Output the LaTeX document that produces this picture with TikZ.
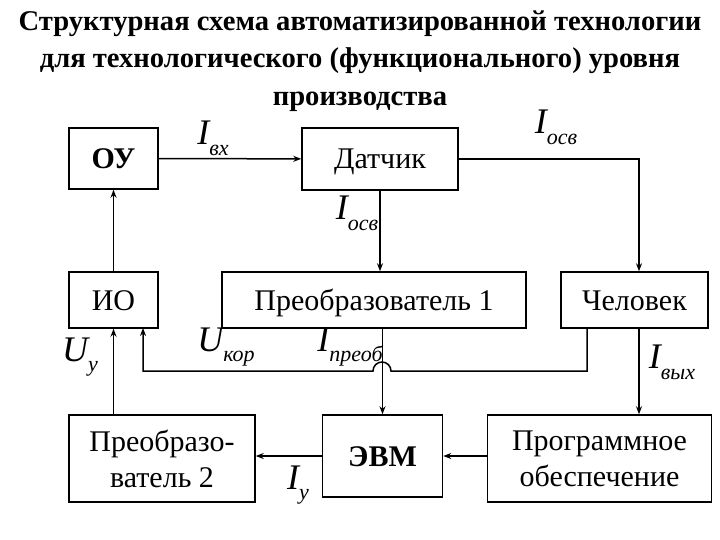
\documentclass[tikz,border=0pt]{standalone}
\usepackage{fontspec}
\setmainfont[Ligatures=TeX]{Liberation Serif}
\usetikzlibrary{arrows.meta}

\tikzset{
  blok/.style={draw,minimum width=#1,inner sep=0pt,font=\rmfamily\fontsize{30}{36}\selectfont},
  oneline/.style={text height=20pt,text depth=0pt},
  lab/.style={font=\rmfamily\fontsize{36}{36}\selectfont\itshape,inner sep=0pt},
  >={Stealth[length=8pt,width=6pt]}
}
\newcommand{\sig}[2]{#1\raisebox{-0.3em}{\fontsize{22}{22}\selectfont #2}}

\begin{document}
\begin{tikzpicture}[x=1pt,y=-1pt,line width=1.5pt]
  \useasboundingbox (0,0) rectangle (720,540);
  % title
  \node[font=\rmfamily\fontsize{28.6}{37.5}\selectfont\bfseries,align=center] (title) at (360,61)
    {Структурная схема автоматизированной технологии\\
     для технологического (функционального) уровня\\
     производства};
  % blocks
  \node[blok=89pt,oneline,minimum height=61pt,font=\rmfamily\fontsize{30}{32}\selectfont\bfseries] (ou) at (113.5,158.5) {ОУ};
  \node[blok=156pt,oneline,minimum height=62pt] (sensor) at (380,159) {Датчик};
  \node[blok=89pt,oneline,minimum height=56pt] (io) at (113.5,300) {ИО};
  \node[blok=304pt,oneline,minimum height=56pt] (conv1) at (374,300) {Преобразователь 1};
  \node[blok=147pt,oneline,minimum height=56pt] (human) at (634.5,300) {Человек};
  \node[blok=186pt,minimum height=87pt,align=center] (conv2) at (162,458.5) {Преобразо-\\ватель 2};
  \node[blok=120pt,oneline,minimum height=82pt,font=\rmfamily\fontsize{30}{32}\selectfont\bfseries] (evm) at (382.5,456) {ЭВМ};
  \node[blok=224pt,minimum height=87pt,align=center] (soft) at (599.5,458.5) {Программное\\обеспечение};
  % connections
  \coordinate (hr) at ([xshift=4.5pt]human.north);
  \coordinate (hb) at ([xshift=4.5pt]human.south);
  \coordinate (hl) at ([xshift=-47.5pt]human.south);
  \draw[->] (ou) -- (sensor);
  \draw[->] (sensor.east) -| (hr);
  \draw[->] (sensor.south) -- (sensor.south |- conv1.north);
  \draw[->] (conv1.south -| evm) -- (evm.north);
  \draw[->] (hl) |- (391,371) arc[start angle=0,end angle=180,radius=9pt]
     -- (143,371) -- (143,328);
  \draw[->] (hb) -- (hb |- soft.north);
  \draw[->] (soft.west |- evm) -- (evm.east);
  \draw[->] (evm.west) -- (evm.west -| conv2.east);
  \draw[->] (conv2.north -| io) -- (io.south);
  \draw[->] (io.north) -- (ou.south);
  % labels
  \node[lab] (ivx) at (213,138) {\sig{I}{вх}};
  \node[lab] (iosv1) at (556,127) {\sig{I}{осв}};
  \node[lab] (iosv2) at (357,213) {\sig{I}{осв}};
  \node[lab] (uu) at (80,357) {\sig{U}{у}};
  \node[lab] (ukor) at (226,347) {\sig{U}{кор}};
  \node[lab] (ipreob) at (350,347) {\sig{I}{преоб}};
  \node[lab] (ivyx) at (672,362) {\sig{I}{вых}};
  \node[lab] (iu) at (298,485) {\sig{I}{у}};
\end{tikzpicture}
\end{document}
